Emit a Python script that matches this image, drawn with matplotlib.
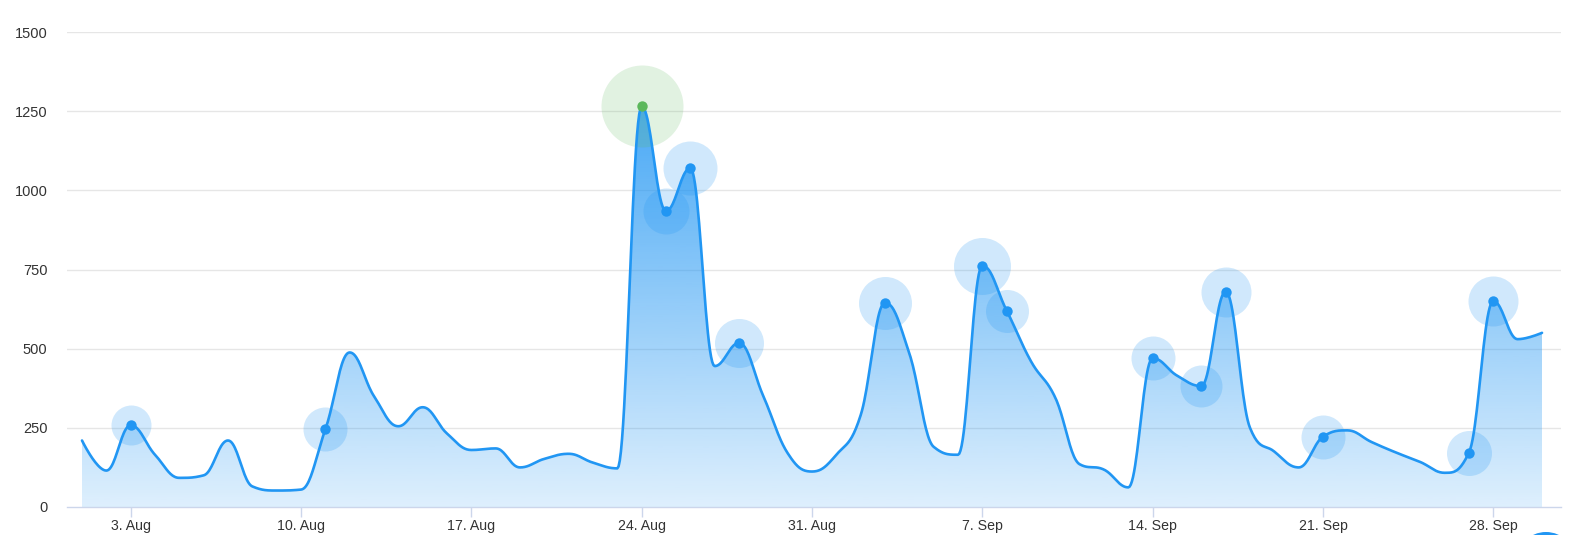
import matplotlib
matplotlib.use("Agg")
import matplotlib.pyplot as plt
import matplotlib.dates as mdates
import numpy as np
import pandas as pd
from matplotlib.patches import Polygon, Circle
from matplotlib.transforms import IdentityTransform

# daily values, 1 Aug .. 30 Sep
dates = pd.date_range("2020-08-01", "2020-09-30", freq="D")
values = [
    210, 115, 258, 165, 92, 100, 210, 65, 52, 55,
    245, 488, 350, 255, 315, 232, 180, 185, 125, 152,
    168, 140, 122, 1265, 935, 1070, 445, 518, 350, 170,
    112,
    165, 290, 645, 485, 190, 165, 762, 620, 460, 345,
    135, 118, 62, 470, 415, 382, 680, 250, 175, 125,
    222, 242, 205, 172, 142, 108, 172, 650, 530, 550,
]

# highlighted points (dates) and their halo radius in px
halo_dates = ["2020-08-03", "2020-08-11", "2020-08-24", "2020-08-25", "2020-08-26",
              "2020-08-28", "2020-09-03", "2020-09-07", "2020-09-08", "2020-09-14",
              "2020-09-16", "2020-09-17", "2020-09-21", "2020-09-27", "2020-09-28"]
halo_radius = [20, 22, 41, 23, 27, 24.5, 26.5, 28.5, 21.5, 22, 21, 25, 22, 22.5, 25]

tick_dates = ["2020-08-03", "2020-08-10", "2020-08-17", "2020-08-24", "2020-08-31",
              "2020-09-07", "2020-09-14", "2020-09-21", "2020-09-28"]
tick_labels = ["3. Aug", "10. Aug", "17. Aug", "24. Aug", "31. Aug",
               "7. Sep", "14. Sep", "21. Sep", "28. Sep"]
y_ticks = [0, 250, 500, 750, 1000, 1250, 1500]

BLUE = "#2196F3"
GREEN = "#5CB85C"


def spline(x, y, smoothing=1.5, steps=24):
    """Highcharts-style spline through the points, returns dense x, y."""
    x = np.asarray(x, float)
    y = np.asarray(y, float)
    lcx, lcy, rcx, rcy = x.copy(), y.copy(), x.copy(), y.copy()
    d = smoothing + 1
    for i in range(1, len(x) - 1):
        lx = (smoothing * x[i] + x[i - 1]) / d
        ly = (smoothing * y[i] + y[i - 1]) / d
        rx = (smoothing * x[i] + x[i + 1]) / d
        ry = (smoothing * y[i] + y[i + 1]) / d
        corr = (ry - ly) * (rx - x[i]) / (rx - lx) + y[i] - ry
        ly += corr
        ry += corr
        if ly > max(y[i - 1], y[i]):
            ly = max(y[i - 1], y[i]); ry = 2 * y[i] - ly
        elif ly < min(y[i - 1], y[i]):
            ly = min(y[i - 1], y[i]); ry = 2 * y[i] - ly
        if ry > max(y[i + 1], y[i]):
            ry = max(y[i + 1], y[i]); ly = 2 * y[i] - ry
        elif ry < min(y[i + 1], y[i]):
            ry = min(y[i + 1], y[i]); ly = 2 * y[i] - ry
        lcx[i], lcy[i], rcx[i], rcy[i] = lx, ly, rx, ry
    t = np.linspace(0, 1, steps)[:, None]
    xs, ys = [x[:1]], [y[:1]]
    for i in range(1, len(x)):
        P = np.array([[x[i - 1], y[i - 1]], [rcx[i - 1], rcy[i - 1]],
                      [lcx[i], lcy[i]], [x[i], y[i]]])
        B = ((1 - t) ** 3) * P[0] + 3 * ((1 - t) ** 2) * t * P[1] \
            + 3 * (1 - t) * t ** 2 * P[2] + t ** 3 * P[3]
        xs.append(B[1:, 0]); ys.append(B[1:, 1])
    return np.concatenate(xs), np.concatenate(ys)


xd = mdates.date2num(dates)
xs, ys = spline(xd, values)

fig = plt.figure(figsize=(15.75, 5.35), dpi=100)
W, H = 1575, 535
ax = fig.add_axes([67 / W, 28 / H, (1561 - 67) / W, (507 - 32) / H])

ppd = (1542 - 82) / 60.0
ax.set_xlim(xd[0] - 15 / ppd, xd[-1] + 19 / ppd)
ax.set_ylim(0, 1500)

# gradient area
ymax = max(values)
grad = np.linspace(0.15, 0.82, 256)[:, None]
rgba = np.zeros((256, 1, 4))
rgba[..., :3] = matplotlib.colors.to_rgb(BLUE)
rgba[..., 3] = grad
im = ax.imshow(rgba, extent=(xd[0], xd[-1], 0, ymax), origin="lower",
               aspect="auto", interpolation="bilinear", zorder=1)
poly = Polygon(np.column_stack([np.r_[xs, xs[::-1]], np.r_[ys, np.zeros_like(ys)]]),
               closed=True, facecolor="none", edgecolor="none", transform=ax.transData)
ax.add_patch(poly)
im.set_clip_path(poly)

ax.plot(xs, ys, color=BLUE, lw=1.9, zorder=4, solid_capstyle="round")

# halos and markers
hx = mdates.date2num(pd.to_datetime(halo_dates))
hv = [values[list(dates).index(pd.Timestamp(d))] for d in halo_dates]
top = int(np.argmax(hv))
for i, (x, v, r) in enumerate(zip(hx, hv, halo_radius)):
    c = GREEN if i == top else BLUE
    a = 0.18 if i == top else 0.21
    s = (2 * r * 0.72) ** 2
    ax.scatter([x], [v], s=s, color=c, alpha=a, lw=0, zorder=3)
    ax.scatter([x], [v], s=(2 * 5.2 * 0.72) ** 2, color=c, lw=0, zorder=5)

# grid / axes styling
for yv in y_ticks[1:]:
    ax.axhline(yv, color="#e6e6e6", lw=1, zorder=0)
for sp in ["top", "right", "left"]:
    ax.spines[sp].set_visible(False)
ax.spines["bottom"].set_color("#ccd6eb")
ax.spines["bottom"].set_linewidth(1)
ax.spines["bottom"].set_zorder(6)

ax.set_yticks(y_ticks)
ax.set_yticklabels([str(v) for v in y_ticks])
ax.set_xticks(mdates.date2num(pd.to_datetime(tick_dates)))
ax.set_xticklabels(tick_labels)
ax.tick_params(axis="y", length=0, pad=14, labelsize=10.5, labelcolor="#333333")
ax.tick_params(axis="x", length=7.2, width=1, color="#ccd6eb", pad=1.5,
               labelsize=10.2, labelcolor="#333333")
for lab in ax.get_xticklabels() + ax.get_yticklabels():
    lab.set_fontfamily(["Liberation Sans", "DejaVu Sans"])

# floating button peeking in at the bottom right
fig.add_artist(Circle((1546, -27), 30, transform=IdentityTransform(),
                      facecolor=BLUE, edgecolor="none"))

fig.savefig("out.png", dpi=100, facecolor="white")
